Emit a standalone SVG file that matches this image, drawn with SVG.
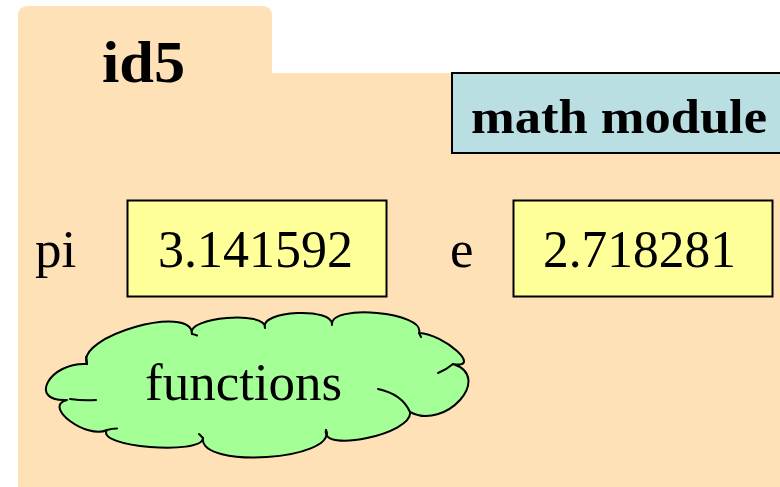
<svg xmlns="http://www.w3.org/2000/svg" width="780" height="487" viewBox="0 0 780 487">
<style>
.t{font-family:"Liberation Serif","Times New Roman",serif;fill:#000}
.b{font-weight:bold}
.box{stroke:#000;stroke-width:2}
.ci{fill:none;stroke:#000;stroke-width:2;stroke-linecap:round}
</style>
<g id="folder">
<path d="M18,16 Q18,6 28,6 H262 Q272,6 272,16 V73 H780 V487 H18 Z" fill="#FEE1B7"/>
<text class="t b" x="102" y="82" font-size="59" textLength="83" lengthAdjust="spacingAndGlyphs">id5</text>
</g>
<g id="math-module">
<rect class="box" x="452" y="73" width="340" height="80" fill="#B9DFE3"/>
<text class="t b" x="471" y="133" font-size="48" textLength="296" lengthAdjust="spacingAndGlyphs">math module</text>
</g>
<g id="pi">
<text class="t" x="35" y="267" font-size="53">pi</text>
<rect class="box" x="127.5" y="200.5" width="259" height="96" fill="#FFFF9A"/>
<text class="t" x="158" y="267" font-size="53" textLength="195" lengthAdjust="spacingAndGlyphs">3.141592</text>
</g>
<g id="e">
<text class="t" x="450" y="267" font-size="53">e</text>
<rect class="box" x="513.5" y="200.5" width="259" height="96" fill="#FFFF9A"/>
<text class="t" x="543" y="267" font-size="53" textLength="193" lengthAdjust="spacingAndGlyphs">2.718281</text>
</g>
<g id="functions">
<path fill="#A3FF96" stroke="#000" stroke-width="2" stroke-linejoin="round" d="M87,364
C49.5,361.8 27.1,402.2 67,400
C41.9,406.2 86.7,439.8 107,430
C94.5,446.8 202.1,455.8 203,438
C198.9,469.2 336.7,460.2 326,430
C319.7,453.8 413.7,433.6 410,412
C445.4,430.9 493.6,377.1 453,364
C483,369.2 445,334.4 419,333
C426.2,312.2 328.8,303.2 332,325
C334,306.8 259,310.2 265,328
C267.4,310.3 185.6,317.1 192,334
C192.3,302.9 74.7,336.5 87,364 Z"/>
<g class="ci">
<path d="M70,399 Q84,401 96,400"/>
<path d="M107,430 Q112,428.5 117,428.5"/>
<path d="M203,438 Q201,436 199,434"/>
<path d="M326,430 Q327,433 327,436"/>
<path d="M378,389 Q402,394 410,412"/>
<path d="M438,373 Q446,370 453,364"/>
<path d="M419,333 Q420,335 421,337"/>
<path d="M192,334 Q195,334.5 197,335.5"/>
<path d="M87,364 Q87,360 86,357"/>
</g>
<text class="t" x="145" y="400" font-size="53">functions</text>
</g>
</svg>
